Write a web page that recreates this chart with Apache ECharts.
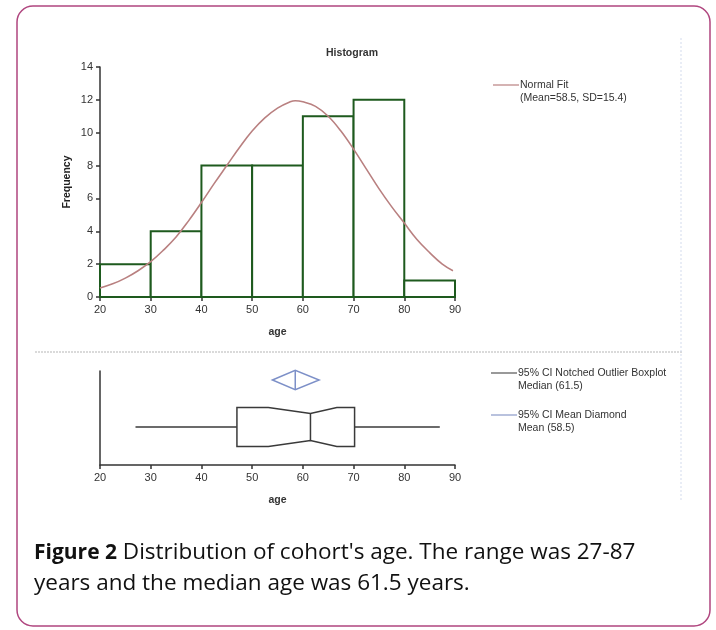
<!DOCTYPE html>
<html><head><meta charset="utf-8">
<script src="https://cdn.jsdelivr.net/npm/echarts@6/dist/echarts.min.js"></script>
<style>html,body{margin:0;padding:0;background:#fff}#c{width:716px;height:630px}</style>
</head><body><div id="c"></div>
<script>
// ---- data ----
const binStart = [20, 30, 40, 50, 60, 70, 80];
const binEnd = [30, 40, 50, 60, 70, 80, 90];
const frequency = [2, 4, 8, 8, 11, 12, 1];
const fitAge = [20, 22.5, 25, 27.5, 30, 32.5, 35, 37.5, 40, 42.5, 45, 47.5, 50, 52.5, 55, 57.5, 58.5, 60, 62.5, 65, 67.5, 70, 72.5, 75, 77.5, 80, 82.5, 85, 87.5, 89.6];
const fitFreq = [0.55, 0.8, 1.15, 1.6, 2.15, 2.85, 3.65, 4.65, 5.75, 6.9, 8.0, 9.1, 10.1, 10.9, 11.5, 11.88, 11.95, 11.88, 11.6, 11.0, 10.1, 9.0, 7.8, 6.6, 5.5, 4.5, 3.5, 2.7, 2.0, 1.6];
const boxSummary = [27, 47, 61.5, 70.2, 87];   // min, q1, median, q3, max
const medianNotch = [53.2, 66.7];             // notch ends
const meanDiamond = [54, 58.5, 63.2];         // lower CI, mean, upper CI
const legendTexts = ['Normal Fit', '(Mean=58.5, SD=15.4)', '95% CI Notched Outlier Boxplot', 'Median (61.5)', '95% CI Mean Diamond', 'Mean (58.5)'];
const captionBold = 'Figure 2';
const captionRest = ' Distribution of cohort\'s age. The range was 27-87';
const captionLine2 = 'years and the median age was 61.5 years.';

// ---- chart ----
const FONT = '"Liberation Sans", Arial, sans-serif';
const CAPFONT = '"Open Sans", sans-serif';
const histData = binStart.map((s, i) => [s, binEnd[i], frequency[i]]);
const fitData = fitAge.map((a, i) => [a, fitFreq[i]]);

const axisCommon = {
  axisLine: { show: true, lineStyle: { color: '#333', width: 1.5 } },
  axisTick: { show: true, length: 4, lineStyle: { color: '#333', width: 1.5 } },
  axisLabel: { color: '#333', fontSize: 11, fontFamily: FONT, margin: 7 },
  splitLine: { show: false }
};
const nameStyle = { color: '#333', fontSize: 10.5, fontWeight: 'bold', fontFamily: FONT };

const chart = echarts.init(document.getElementById('c'), null, { renderer: 'canvas' });
chart.setOption({
  backgroundColor: '#fff',
  animation: false,
  grid: [
    { left: 100, top: 67, width: 355, height: 230 },
    { left: 100, top: 371, width: 355, height: 94 }
  ],
  xAxis: [
    Object.assign({}, axisCommon, { type: 'value', gridIndex: 0, min: 20, max: 90, interval: 10,
      name: 'age', nameLocation: 'middle', nameGap: 30, nameTextStyle: nameStyle }),
    Object.assign({}, axisCommon, { type: 'value', gridIndex: 1, min: 20, max: 90, interval: 10,
      name: 'age', nameLocation: 'middle', nameGap: 30, nameTextStyle: nameStyle })
  ],
  yAxis: [
    Object.assign({}, axisCommon, { type: 'value', gridIndex: 0, min: 0, max: 14, interval: 2,
      name: 'Frequency', nameLocation: 'middle', nameGap: 27, nameRotate: 90,
      nameTextStyle: { color: '#222', fontSize: 10.5, fontWeight: 'bold', fontFamily: FONT } }),
    { type: 'value', gridIndex: 1, min: 0, max: 1,
      axisLine: { show: true, lineStyle: { color: '#333', width: 1.5 } },
      axisTick: { show: false }, axisLabel: { show: false }, splitLine: { show: false } }
  ],
  title: {
    text: 'Histogram', left: 347, top: 43, textAlign: 'center',
    textStyle: { fontSize: 10.5, fontWeight: 'bold', color: '#333', fontFamily: FONT }
  },
  series: [
    {
      type: 'custom', xAxisIndex: 0, yAxisIndex: 0, z: 2,
      data: histData,
      encode: { x: [0, 1], y: 2 },
      renderItem: function (params, api) {
        const p0 = api.coord([api.value(0), 0]);
        const p1 = api.coord([api.value(1), api.value(2)]);
        return {
          type: 'rect',
          shape: { x: p0[0], y: p1[1], width: p1[0] - p0[0], height: p0[1] - p1[1] },
          style: { fill: '#fff', stroke: '#1e5a1e', lineWidth: 2 }
        };
      }
    },
    {
      type: 'line', xAxisIndex: 0, yAxisIndex: 0, z: 3,
      data: fitData, smooth: 0.4, showSymbol: false, symbol: 'none',
      lineStyle: { color: '#b98080', width: 1.6 }
    },
    {
      type: 'custom', xAxisIndex: 1, yAxisIndex: 1, z: 3,
      data: [boxSummary.concat(medianNotch)],
      encode: { x: [0, 1, 2, 3, 4] },
      renderItem: function (params, api) {
        const yc = 0.404;
        const v = i => api.value(i);
        const c = x => api.coord([x, yc]);
        const half = 19.5, notch = 6;
        const yMid = c(v(0))[1];
        const xMin = c(v(0))[0], xQ1 = c(v(1))[0], xMed = c(v(2))[0], xQ3 = c(v(3))[0], xMax = c(v(4))[0];
        const xNl = c(v(5))[0], xNh = c(v(6))[0];
        const top = yMid - half, bot = yMid + half;
        const st = { stroke: '#3a3a3a', lineWidth: 1.5, fill: 'none' };
        return {
          type: 'group',
          children: [
            { type: 'line', shape: { x1: xMin, y1: yMid, x2: xQ1, y2: yMid }, style: st },
            { type: 'line', shape: { x1: xQ3, y1: yMid, x2: xMax, y2: yMid }, style: st },
            { type: 'polygon', shape: { points: [
              [xQ1, top], [xNl, top], [xMed, top + notch], [xNh, top], [xQ3, top],
              [xQ3, bot], [xNh, bot], [xMed, bot - notch], [xNl, bot], [xQ1, bot]
            ] }, style: { stroke: '#3a3a3a', lineWidth: 1.5, fill: '#fff' } },
            { type: 'line', shape: { x1: xMed, y1: top + notch, x2: xMed, y2: bot - notch }, style: st }
          ]
        };
      }
    },
    {
      type: 'custom', xAxisIndex: 1, yAxisIndex: 1, z: 3,
      data: [meanDiamond],
      encode: { x: [0, 1, 2] },
      renderItem: function (params, api) {
        const yc = 0.904;
        const l = api.coord([api.value(0), yc]);
        const m = api.coord([api.value(1), yc]);
        const r = api.coord([api.value(2), yc]);
        const h = 9.7;
        const st = { stroke: '#7d90c8', lineWidth: 1.5, fill: 'none' };
        return {
          type: 'group',
          children: [
            { type: 'polygon', shape: { points: [[l[0], m[1]], [m[0], m[1] - h], [r[0], m[1]], [m[0], m[1] + h]] }, style: st },
            { type: 'line', shape: { x1: m[0], y1: m[1] - h, x2: m[0], y2: m[1] + h }, style: st }
          ]
        };
      }
    }
  ],
  graphic: [
    { type: 'rect', shape: { x: 17, y: 6, width: 693, height: 620, r: 16 }, style: { fill: 'none', stroke: '#b0467f', lineWidth: 1.5 }, silent: true },
    { type: 'line', shape: { x1: 35, y1: 352, x2: 683, y2: 352 }, style: { stroke: '#b5b5b5', lineWidth: 1, lineDash: [2, 1] }, silent: true },
    { type: 'line', shape: { x1: 681, y1: 38, x2: 681, y2: 500 }, style: { stroke: '#d4dcee', lineWidth: 1, lineDash: [2, 2] }, silent: true },
    // legend 1
    { type: 'line', shape: { x1: 493, y1: 85, x2: 519, y2: 85 }, style: { stroke: '#b98080', lineWidth: 1.2 } },
    { type: 'text', x: 520, y: 85, style: { text: legendTexts[0], fill: '#333', font: '10.5px ' + FONT, verticalAlign: 'middle' } },
    { type: 'text', x: 520, y: 98, style: { text: legendTexts[1], fill: '#333', font: '10.5px ' + FONT, verticalAlign: 'middle' } },
    // legend 2
    { type: 'line', shape: { x1: 491, y1: 373, x2: 517, y2: 373 }, style: { stroke: '#555', lineWidth: 1.2 } },
    { type: 'text', x: 518, y: 373, style: { text: legendTexts[2], fill: '#333', font: '10.5px ' + FONT, verticalAlign: 'middle' } },
    { type: 'text', x: 518, y: 386, style: { text: legendTexts[3], fill: '#333', font: '10.5px ' + FONT, verticalAlign: 'middle' } },
    { type: 'line', shape: { x1: 491, y1: 415, x2: 517, y2: 415 }, style: { stroke: '#8a9ac8', lineWidth: 1.2 } },
    { type: 'text', x: 518, y: 415, style: { text: legendTexts[4], fill: '#333', font: '10.5px ' + FONT, verticalAlign: 'middle' } },
    { type: 'text', x: 518, y: 428, style: { text: legendTexts[5], fill: '#333', font: '10.5px ' + FONT, verticalAlign: 'middle' } },
    // caption
    { type: 'text', x: 34, y: 553, style: {
        text: '{b|' + captionBold + '}{n|' + captionRest + '}',
        verticalAlign: 'middle',
        rich: {
          b: { fontFamily: CAPFONT, fontSize: 21, fontWeight: 'bold', fill: '#111' },
          n: { fontFamily: CAPFONT, fontSize: 22.5, fill: '#111' }
        } } },
    { type: 'text', x: 34, y: 584, style: { text: captionLine2, verticalAlign: 'middle',
        font: '22.5px ' + CAPFONT, fill: '#111' } }
  ]
});
</script></body></html>
